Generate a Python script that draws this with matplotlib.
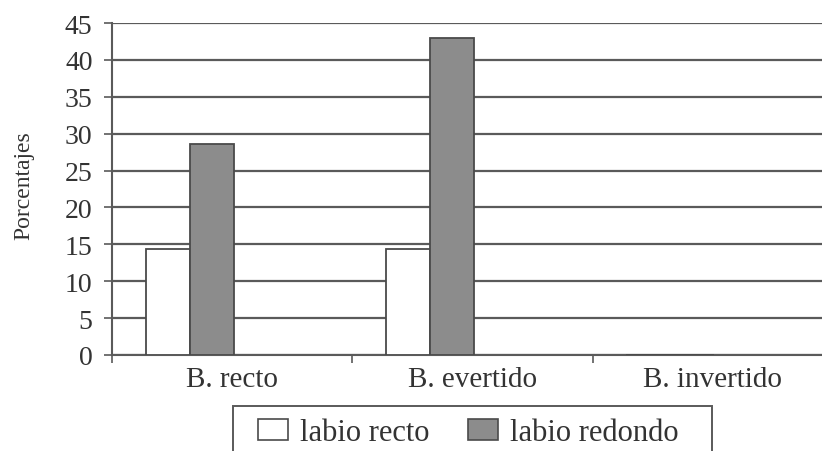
import matplotlib
matplotlib.use("Agg")
import matplotlib.pyplot as plt
import numpy as np
from matplotlib.patches import Patch, Rectangle

categories = ["B. recto", "B. evertido", "B. invertido"]
labio_recto = [14.3, 14.3, 0.0]
labio_redondo = [28.6, 42.9, 0.0]
series_names = ["labio recto", "labio redondo"]
yticks = [0, 5, 10, 15, 20, 25, 30, 35, 40, 45]

plt.rcParams['font.family'] = ['Liberation Serif', 'DejaVu Serif']
text_color = "#333333"
line_color = "#5a5a5a"

W, H = 822, 452
fig = plt.figure(figsize=(W/100, H/100), dpi=100)
ax = fig.add_axes([112/W, 1-356/H, (833-112)/W, (356-24)/H])

x = np.arange(len(categories))
w = 0.183
ax.bar(x - 0.268, labio_recto, width=w, color="white", edgecolor="#4a4a4a", linewidth=1.3, zorder=3)
ax.bar(x - 0.085, labio_redondo, width=w, color="#8c8c8c", edgecolor="#4a4a4a", linewidth=1.3, zorder=3)

ax.set_xlim(-0.5, 2.5)
ax.set_ylim(0, 45)
ax.set_yticks(yticks)
ax.set_yticklabels([str(t) for t in yticks])
ax.yaxis.grid(True, color=line_color, linewidth=1.6, zorder=1)
ax.set_axisbelow(True)

ax.set_xticks(x)
ax.set_xticklabels(categories)
ax.set_xticks([-0.5, 0.5, 1.5, 2.5], minor=True)
ax.tick_params(axis='x', which='major', length=0, pad=8, labelsize=21, labelcolor=text_color)
ax.tick_params(axis='x', which='minor', length=6, width=1.2, color=line_color, direction='out')
ax.tick_params(axis='y', length=6, width=1.2, color=line_color, pad=8, labelsize=20, labelcolor=text_color)

for s in ['top', 'right']:
    ax.spines[s].set_visible(False)
for s in ['left', 'bottom']:
    ax.spines[s].set_color(line_color)
    ax.spines[s].set_linewidth(1.5)

fig.text(24/W, 1-186/H, "Porcentajes", rotation=90, ha='center', va='center',
         fontsize=17, color=text_color)

# legend frame (drawn separately, extends below the figure edge)
fig.patches.append(Rectangle((233/W, -0.1), (712-233)/W, 0.1 + (H-407)/H,
                             transform=fig.transFigure, facecolor='none',
                             edgecolor=line_color, linewidth=1.4, clip_on=False))

handles = [Patch(facecolor="white", edgecolor="#4a4a4a", linewidth=1.2),
           Patch(facecolor="#8c8c8c", edgecolor="#4a4a4a", linewidth=1.2)]
leg = fig.legend(handles, series_names, loc='upper left', ncol=2,
                 bbox_to_anchor=(258/W, 1-419/H), fontsize=22,
                 frameon=False,
                 handlelength=0.98, handleheight=0.7, handletextpad=0.4,
                 columnspacing=1.25, borderpad=0, borderaxespad=0)
for t in leg.get_texts():
    t.set_color(text_color)

fig.savefig("out.png", dpi=100)
